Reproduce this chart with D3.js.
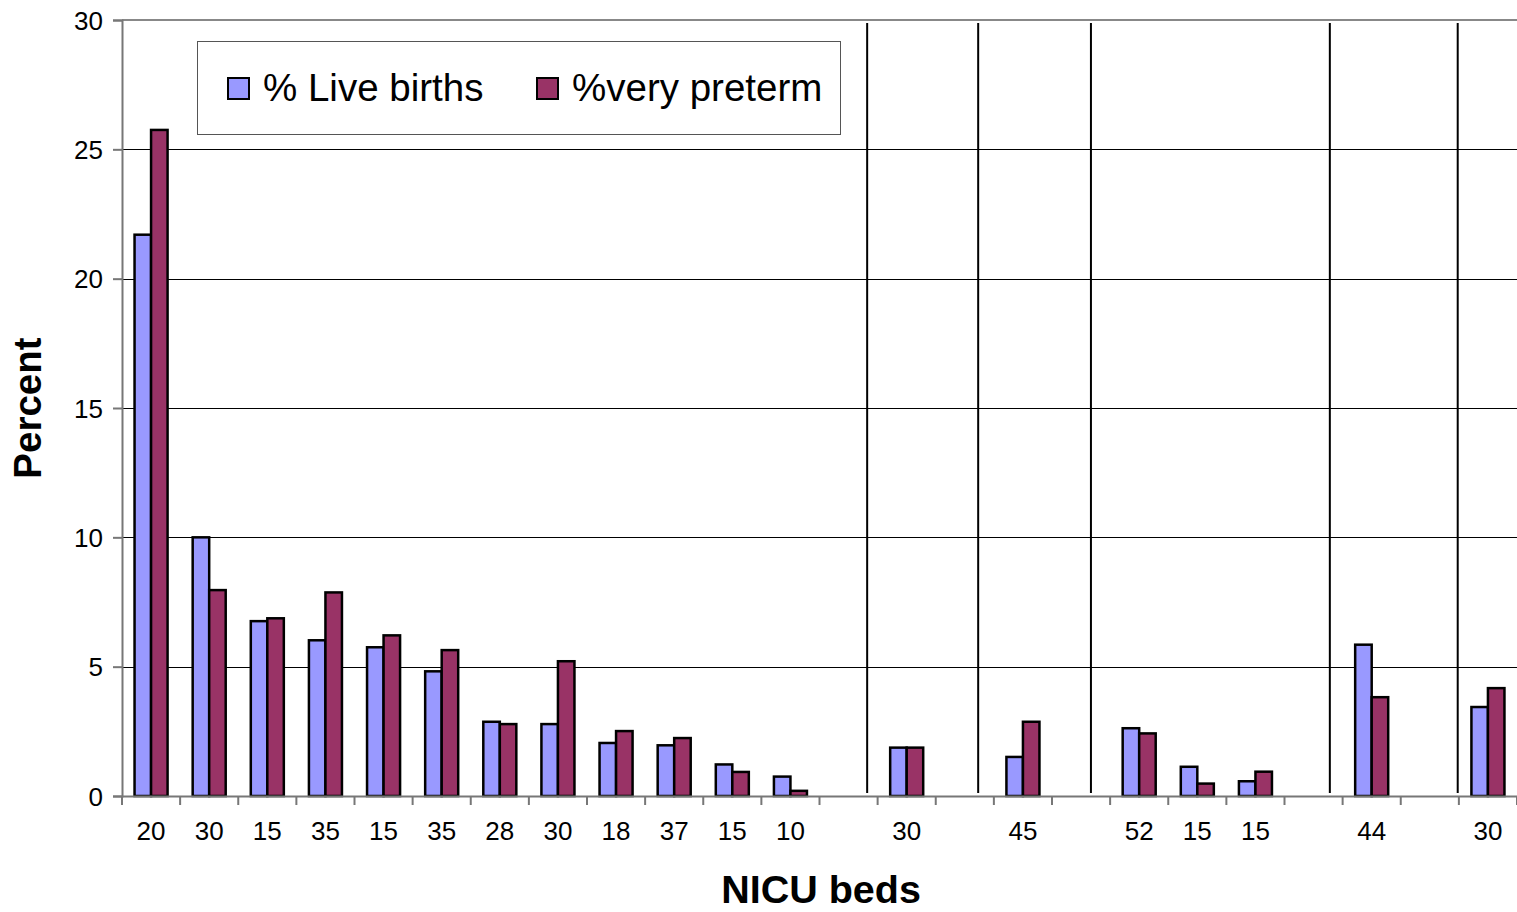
<!DOCTYPE html>
<html><head><meta charset="utf-8">
<script src="https://cdn.jsdelivr.net/npm/d3@7/dist/d3.min.js"></script>
<style>body{margin:0;background:#fff}svg{display:block}text{font-family:"Liberation Sans",Arial,sans-serif}</style>
</head><body>
<svg id="c" width="1517" height="912"></svg>
<script>
const categories = ["20","30","15","35","15","35","28","30","18","37","15","10","","30","","45","","52","15","15","","44","","30"];
const liveBirths = [21.7,10.0,6.76,6.02,5.75,4.82,2.87,2.78,2.05,1.96,1.22,0.75,null,1.87,null,1.51,null,2.62,1.13,0.57,null,5.85,null,3.44];
const veryPreterm = [25.75,7.96,6.87,7.87,6.21,5.64,2.78,5.21,2.51,2.24,0.93,0.2,null,1.87,null,2.87,null,2.42,0.48,0.94,null,3.82,null,4.17];
const seriesNames = ["% Live births","%very preterm"];
const seriesColors = ["#9999FF","#993366"];
const yTicks = [0,5,10,15,20,25,30];
const separators = [12.82,14.73,16.67,20.78,22.98]; // in category units
const svg = d3.select("#c");
const L=122,R=1517,T=20,B=796;
const idx = categories.map((d,i)=>i);
const x = d3.scaleBand().domain(idx).range([L,R]).padding(0);
const xl = d3.scaleLinear().domain([0,categories.length]).range([L,R]);
const xs = d3.scaleBand().domain([0,1]).range([0,x.bandwidth()]).paddingOuter(0.76).paddingInner(0);
const y = d3.scaleLinear().domain([0,30]).range([B,T]);

// gridlines
svg.append("g").selectAll("line").data(yTicks.filter(d=>d>0&&d<30)).join("line")
 .attr("x1",L).attr("x2",R).attr("y1",d=>Math.round(y(d))+0.5).attr("y2",d=>Math.round(y(d))+0.5)
 .attr("stroke","#000").attr("stroke-width",1);
// top border
svg.append("line").attr("x1",L).attr("x2",R).attr("y1",T).attr("y2",T).attr("stroke","#888").attr("stroke-width",2);

// separators
svg.append("g").selectAll("line").data(separators).join("line")
 .attr("x1",d=>xl(d)).attr("x2",d=>xl(d)).attr("y1",T+3).attr("y2",B-3)
 .attr("stroke","#000").attr("stroke-width",2);

// bars
const series=[liveBirths,veryPreterm];
series.forEach((vals,s)=>{
 svg.append("g").selectAll("rect").data(vals.map((v,i)=>({v,i})).filter(d=>d.v!=null)).join("rect")
  .attr("x",d=>x(d.i)+xs(s)).attr("width",xs.bandwidth())
  .attr("y",d=>y(d.v)).attr("height",d=>B-y(d.v))
  .attr("fill",seriesColors[s]).attr("stroke","#000").attr("stroke-width",2.5);
});

// y axis
const ya = svg.append("g").attr("transform",`translate(${L},0)`).call(d3.axisLeft(y).tickValues(yTicks).tickSize(9).tickPadding(10));
ya.select(".domain").attr("stroke","#777").attr("stroke-width",2);
ya.selectAll(".tick line").attr("stroke","#777").attr("stroke-width",2);
ya.selectAll(".tick text").attr("font-size",26).attr("fill","#000").attr("font-family","Liberation Sans, Arial, sans-serif").attr("dy","0.35em");

// x axis
const xa = svg.append("g").attr("transform",`translate(0,${B})`).call(d3.axisBottom(x).tickFormat(i=>categories[i]).tickSize(0).tickPadding(26));
xa.select(".domain").attr("stroke","#777").attr("stroke-width",2);
xa.selectAll(".tick text").attr("font-size",26).attr("fill","#000").attr("font-family","Liberation Sans, Arial, sans-serif");
svg.append("g").selectAll("line").data(d3.range(categories.length+1)).join("line")
 .attr("x1",d=>xl(d)).attr("x2",d=>xl(d)).attr("y1",B).attr("y2",B+9).attr("stroke","#777").attr("stroke-width",2);

// titles
svg.append("text").attr("transform","translate(41,408) rotate(-90)").attr("text-anchor","middle")
 .attr("font-size",38.5).attr("font-weight","bold").text("Percent");
svg.append("text").attr("x",821).attr("y",903).attr("text-anchor","middle")
 .attr("font-size",39.5).attr("font-weight","bold").text("NICU beds");

// legend
const lg = svg.append("g");
lg.append("rect").attr("x",197.5).attr("y",41.5).attr("width",643).attr("height",93).attr("fill","#fff").attr("stroke","#555").attr("stroke-width",1);
const lx=[228,537], tx=[263,572];
seriesNames.forEach((n,i)=>{
 lg.append("rect").attr("x",lx[i]).attr("y",78).attr("width",21).attr("height",21).attr("fill",seriesColors[i]).attr("stroke","#000").attr("stroke-width",2);
 lg.append("text").attr("x",tx[i]).attr("y",101).attr("font-size",38.5).text(n);
});
</script>
</body></html>
